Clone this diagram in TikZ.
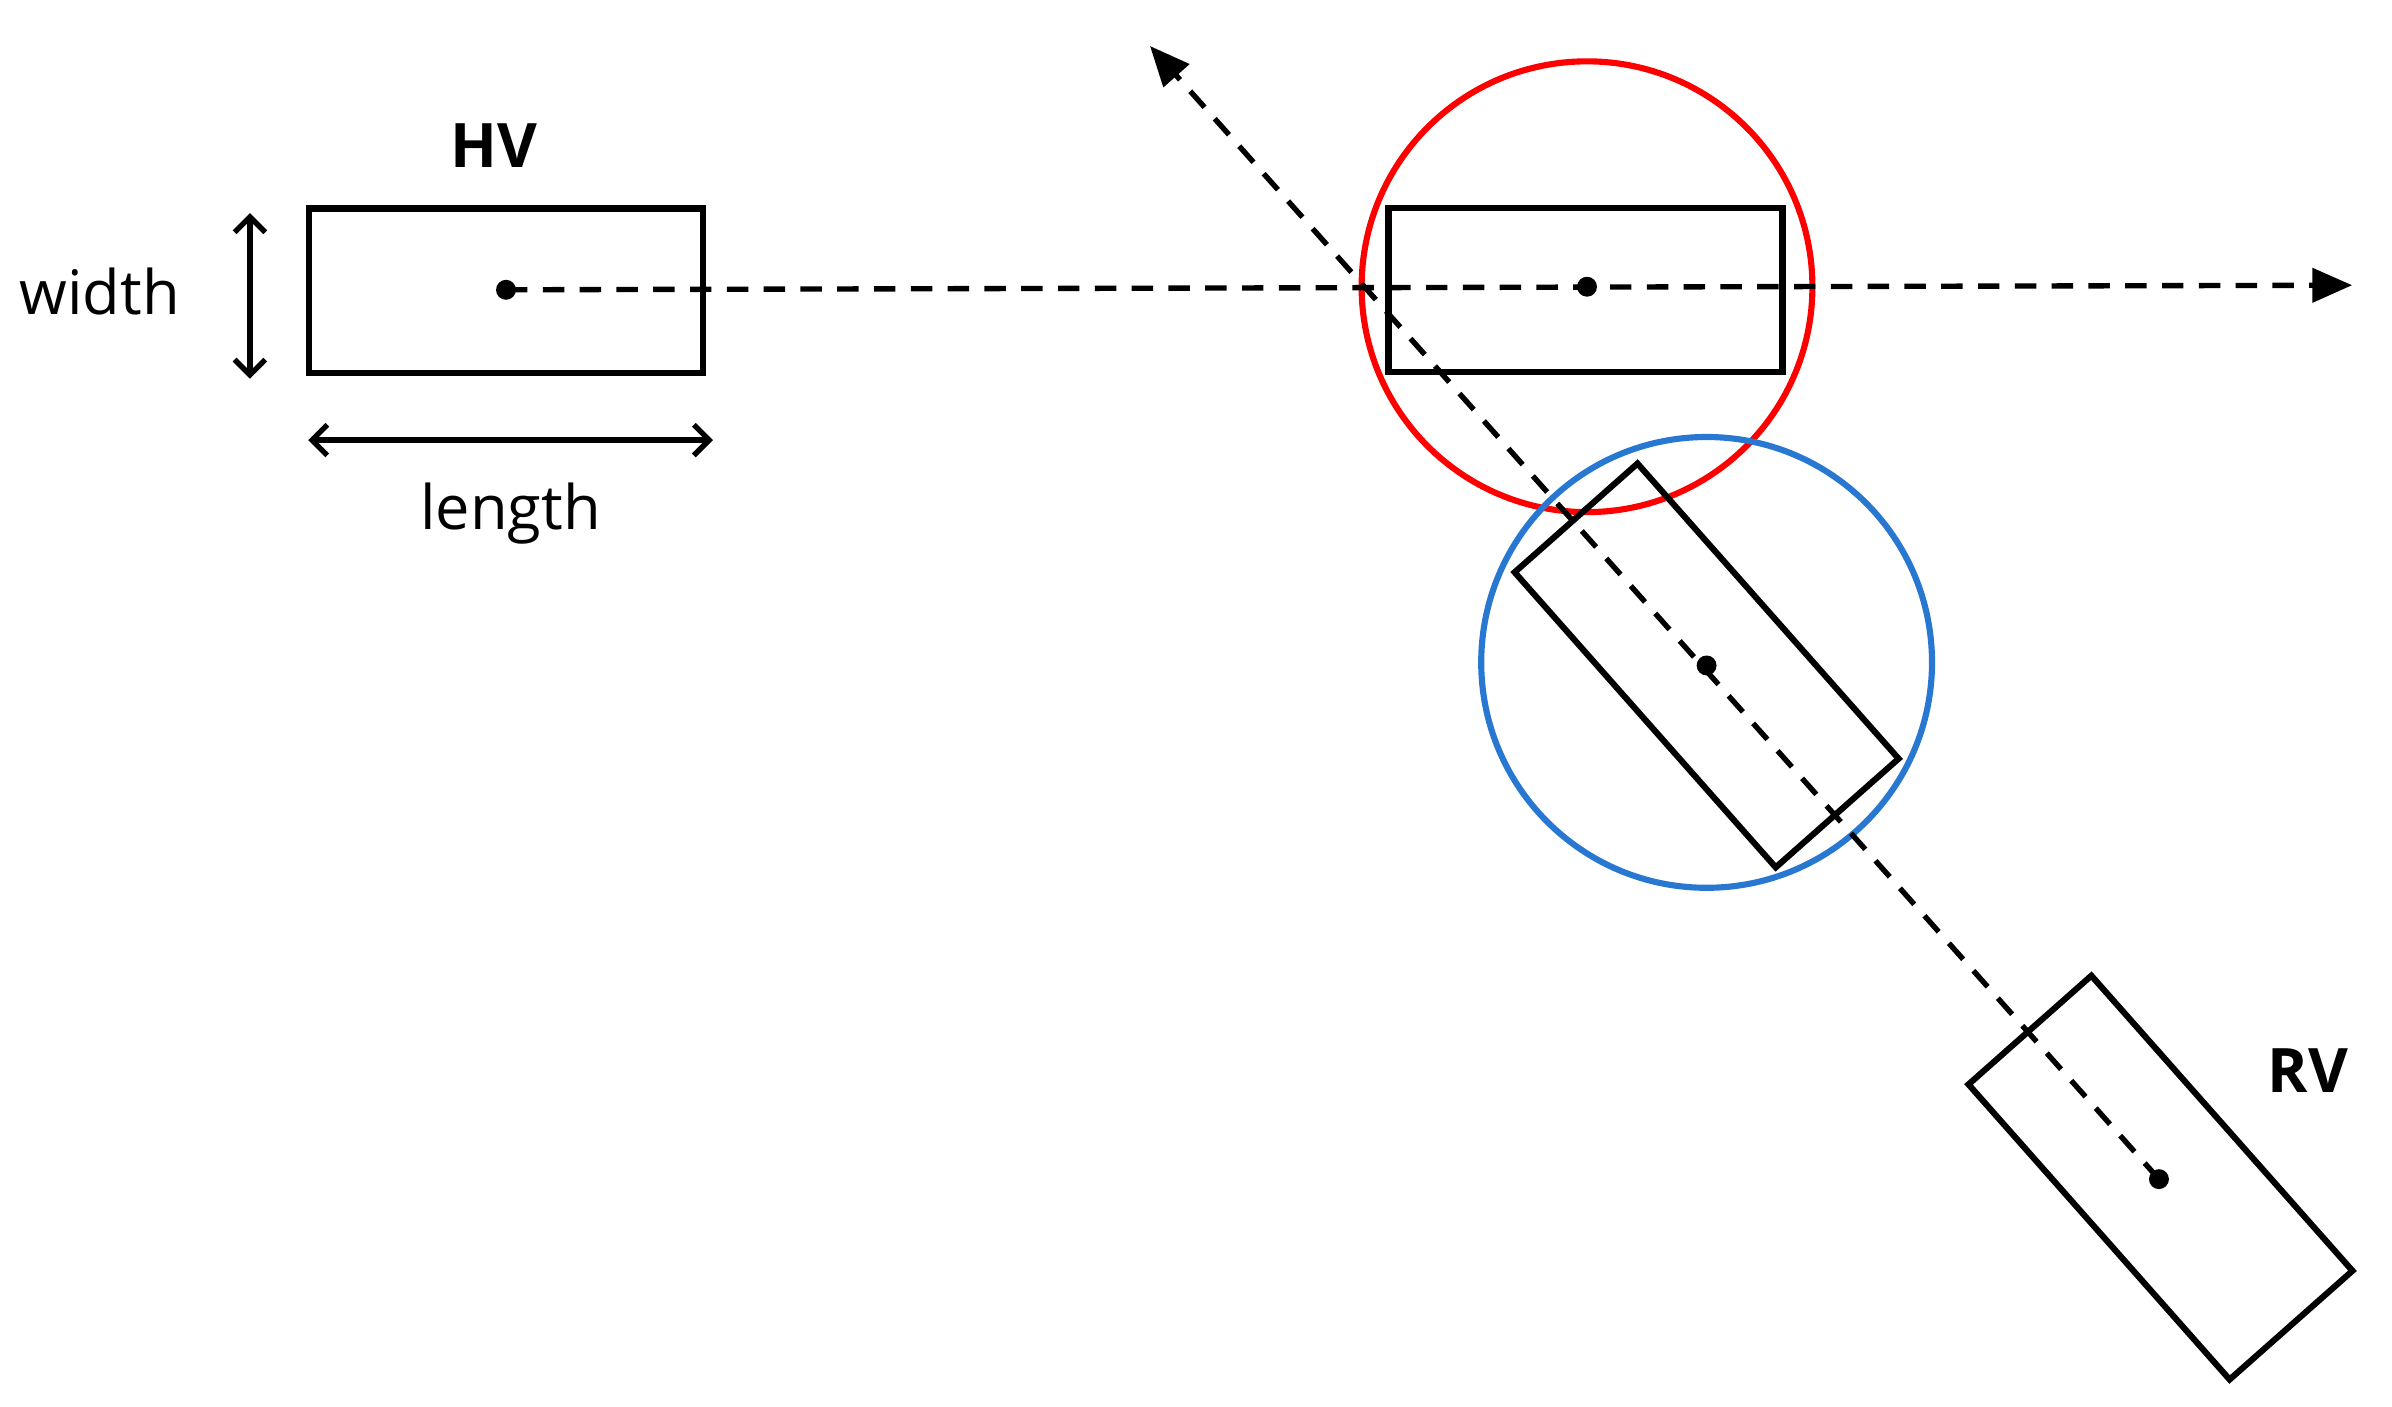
\documentclass[tikz,border=0pt]{standalone}
\usepackage{fontspec}
\setmainfont{Open Sans}
\usetikzlibrary{arrows.meta}
\begin{document}
\begin{tikzpicture}[x=1pt,y=-1pt,
  car/.style={draw,line width=4pt,inner sep=0pt,minimum width=257pt,minimum height=107pt},
  dot/.style={circle,fill,inner sep=0pt,minimum size=13pt},
  dsh/.style={line width=3.5pt,dash pattern=on 14pt off 10pt},
  lbl/.style={font=\fontsize{40}{44}\selectfont},
  tip/.style={-{Triangle[length=26pt,width=22pt]}},
  dim/.style={line width=3.5pt,{Straight Barb[length=10pt,width=20pt]}-{Straight Barb[length=10pt,width=20pt]}}]
\useasboundingbox (0,0) rectangle (1560,917);
% circles
\node[draw=red,line width=4pt,circle,minimum size=294pt,inner sep=0pt] (rc) at (1035,187) {};
\node[draw={rgb,255:red,40;green,120;blue,210},line width=4pt,circle,minimum size=294pt,inner sep=0pt] (bc) at (1113,432) {};
% HV
\node[car] (hv) at (330,189.5) {};
\node[dot] (hvd) at (330,189) {};
\node[font=\bfseries\fontsize{40}{44}\selectfont] (hvl) at (322,95) {HV};
\node[lbl] (wl) at (65,190) {width};
\node[lbl] (ll) at (333,335) {length};
\coordinate (w1) at (163,139); \coordinate (w2) at (163,247);
\draw[dim] (w1) -- (w2);
\coordinate (l1) at (201,287); \coordinate (l2) at (465,287);
\draw[dim] (l1) -- (l2);
% predicted HV
\node[car] (hp) at (1034,189) {};
\node[dot] (hpd) at (1035,187) {};
\coordinate (hend) at (1534,186);
\draw[dsh,tip] (hvd.center) -- (hend);
% RV path
\node[car,rotate=-48.5] (rp) at (1113,434) {};
\node[dot] (rpd) at (1113,434) {};
\node[car,rotate=-48.5] (rv) at (1409,768) {};
\node[dot] (rvd) at (1408,769) {};
\node[font=\bfseries\fontsize{40}{44}\selectfont] (rvl) at (1505,698) {RV};
\coordinate (rend) at (750,30);
\draw[dsh,tip] (rvd.center) -- (rend);
\end{tikzpicture}
\end{document}
